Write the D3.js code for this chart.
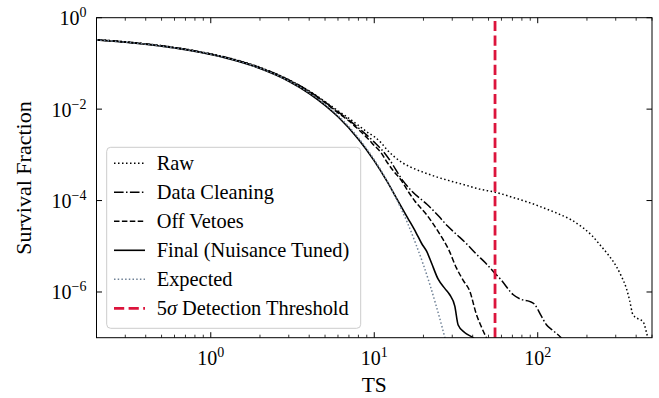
<!DOCTYPE html>
<html>
<head>
<meta charset="utf-8">
<script src="https://cdn.jsdelivr.net/npm/d3@7/dist/d3.min.js"></script>
<style>
  html, body { margin: 0; padding: 0; background: #fff; }
  svg { display: block; }
  text { font-family: "Liberation Serif", "Times New Roman", serif; fill: #000; }
</style>
</head>
<body>
<svg id="chart" width="659" height="398"></svg>
<script>
// ---------------- data ----------------
const tsRaw = [0.2, 0.3, 0.5, 0.7, 1, 1.5, 2, 3, 4, 5, 6, 7, 8, 9, 10, 11, 12, 13.3, 15, 18, 21, 25, 29, 35, 44, 55, 70, 89, 110, 136, 160, 189, 215, 239, 270, 302, 325, 348, 365, 382, 410, 440, 461, 471, 485];
const fracRaw = [0.331, 0.296, 0.244, 0.205, 0.162, 0.114, 0.082, 0.0440, 0.0250, 0.0146, 0.0092, 0.0063, 0.0044, 0.0032, 0.0025, 0.00185, 0.00128, 0.00090, 0.00066, 0.00048, 0.00039, 0.000315, 0.000270, 0.000225, 0.000178, 0.000152, 0.000118, 9.0e-5, 6.8e-5, 5.0e-5, 3.8e-5, 2.55e-5, 1.7e-5, 1.10e-5, 6.5e-6, 3.67e-6, 2.2e-6, 1.22e-6, 6.5e-7, 3.2e-7, 2.6e-7, 2.27e-7, 1.37e-7, 1.0e-7, 6e-8];

const tsClean = [0.2, 0.3, 0.5, 0.7, 1, 1.5, 2, 3, 4, 5, 6, 7, 8, 9, 10, 11, 12.4, 15, 17, 19.9, 21, 25, 28, 31.8, 37, 42, 48, 53.3, 60, 70.6, 80, 89, 96, 104, 113, 125, 139, 150];
const fracClean = [0.330, 0.295, 0.243, 0.204, 0.161, 0.113, 0.081, 0.0436, 0.0246, 0.0143, 0.0087, 0.0058, 0.0039, 0.0027, 0.0019, 0.00135, 0.00078, 0.00027, 0.00016, 9.8e-5, 8.3e-5, 4.4e-5, 2.8e-5, 1.83e-5, 1.1e-5, 6.8e-6, 4.3e-6, 2.85e-6, 1.8e-6, 8.8e-7, 6.8e-7, 6.25e-7, 5.3e-7, 3.2e-7, 1.92e-7, 1.4e-7, 1.0e-7, 7e-8];

const tsVeto = [0.2, 0.3, 0.5, 0.7, 1, 1.5, 2, 3, 4, 5, 6, 7, 8, 9, 10, 11, 11.8, 13, 14.7, 16, 17.7, 21, 25.2, 28.5, 31.8, 35, 38.4, 42.2, 45, 48.5, 51];
const fracVeto = [0.329, 0.294, 0.242, 0.203, 0.160, 0.112, 0.080, 0.0430, 0.0240, 0.0138, 0.0083, 0.0055, 0.0036, 0.0024, 0.0016, 0.00112, 0.00075, 0.00046, 0.00027, 0.000165, 9.8e-5, 4.8e-5, 1.83e-5, 8.5e-6, 3.37e-6, 1.8e-6, 1.04e-6, 3.2e-7, 1.8e-7, 1.0e-7, 7e-8];

const tsFinal = [0.2, 0.3, 0.5, 0.7, 1, 1.5, 2, 3, 4, 5, 6, 8, 10, 12, 14, 16, 18, 19.5, 20.9, 22.4, 24.6, 27, 28.9, 31.1, 32.6, 35.7, 40.2, 43];
const fracFinal = [0.326, 0.290, 0.238, 0.200, 0.157, 0.109, 0.0775, 0.0408, 0.0220, 0.0121, 0.0068, 0.0022, 0.00074, 0.00026, 9.7e-5, 4.2e-5, 2.0e-5, 1.15e-5, 7.8e-6, 4.3e-6, 1.9e-6, 1.2e-6, 8.8e-7, 4.9e-7, 1.9e-7, 1.3e-7, 1.0e-7, 8e-8];

const tsExpected = [0.2, 0.3, 0.5, 0.7, 1, 1.5, 2, 3, 4, 5, 6, 7, 8, 10, 12, 14, 16, 18, 20, 22, 24, 26, 27, 28];
const fracExpected = [0.327, 0.292, 0.240, 0.201, 0.159, 0.110, 0.0786, 0.0416, 0.0228, 0.0127, 0.0072, 0.0041, 0.00234, 0.00078, 0.000266, 9.1e-5, 3.2e-5, 1.1e-5, 3.9e-6, 1.37e-6, 4.8e-7, 1.71e-7, 1.02e-7, 6.1e-8];

const thresholdTS = 54.8;

const xTickValues = [1, 10, 100];
const xTickExponents = ["0", "1", "2"];
const yTickValues = [1, 1e-2, 1e-4, 1e-6];
const yTickExponents = ["0", "\u22122", "\u22124", "\u22126"];

const seriesNames = ["Raw", "Data Cleaning", "Off Vetoes", "Final (Nuisance Tuned)", "Expected"];
const xLabel = "TS";
const yLabel = "Survival Fraction";

// ---------------- layout ----------------
const W = 659, H = 398;
const M = { left: 96.5, right: 7, top: 17.7, bottom: 60.3 };
const svg = d3.select("#chart");

const x = d3.scaleLog().domain([0.2, 500]).range([M.left, W - M.right]);
const y = d3.scaleLog().domain([1e-7, 1]).range([H - M.bottom, M.top]);
const x0 = M.left, x1 = W - M.right, y0 = M.top, y1 = H - M.bottom;

svg.append("defs").append("clipPath").attr("id", "plotclip")
  .append("rect").attr("x", x0).attr("y", y0).attr("width", x1 - x0).attr("height", y1 - y0);

const styles = [
  { color: "#000", width: 1.5, dash: "1.5,2.5" },           // Raw  (:)
  { color: "#000", width: 1.5, dash: "9.6,2.4,1.5,2.4" },   // Data Cleaning (-.)
  { color: "#000", width: 1.5, dash: "5.5,2.4" },           // Off Vetoes (--)
  { color: "#000", width: 1.6, dash: null },                // Final (-)
  { color: "#6f8196", width: 1.5, dash: "1.5,2.2" }         // Expected (:)
];
const seriesData = [
  [tsRaw, fracRaw], [tsClean, fracClean], [tsVeto, fracVeto], [tsFinal, fracFinal], [tsExpected, fracExpected]
];

const line = d3.line().x(d => x(d[0])).y(d => y(d[1])).curve(d3.curveMonotoneX);
const gLines = svg.append("g").attr("clip-path", "url(#plotclip)");

const order = [0, 1, 2, 3, 4];
order.forEach(i => {
  const [ts, fr] = seriesData[i];
  const pts = ts.map((t, k) => [t, fr[k]]);
  gLines.append("path").datum(pts)
    .attr("d", line)
    .attr("fill", "none")
    .attr("stroke", styles[i].color)
    .attr("stroke-width", styles[i].width)
    .attr("stroke-dasharray", styles[i].dash)
    .attr("stroke-linejoin", "round");
});

// threshold vertical line (drawn from bottom to top)
gLines.append("line")
  .attr("x1", x(thresholdTS)).attr("x2", x(thresholdTS))
  .attr("y1", y1).attr("y2", y0)
  .attr("stroke", "#DC143C").attr("stroke-width", 2.8)
  .attr("stroke-dasharray", "10.2,4.4");

// ---------------- axes ----------------
const minorX = [];
for (let e = -1; e <= 2; e++) for (let m = 2; m <= 9; m++) {
  const v = m * Math.pow(10, e);
  if (v >= 0.2 && v <= 500) minorX.push(v);
}
const axG = svg.append("g").attr("stroke", "#000");
svg.append("rect").attr("x", x0).attr("y", y0).attr("width", x1 - x0).attr("height", y1 - y0)
  .attr("fill", "none").attr("stroke", "#000").attr("stroke-width", 1);

const majLen = 5.5, minLen = 3;
xTickValues.forEach(v => {
  axG.append("line").attr("x1", x(v)).attr("x2", x(v)).attr("y1", y1).attr("y2", y1 - majLen).attr("stroke-width", 1);
  axG.append("line").attr("x1", x(v)).attr("x2", x(v)).attr("y1", y0).attr("y2", y0 + majLen).attr("stroke-width", 1);
});
minorX.forEach(v => {
  axG.append("line").attr("x1", x(v)).attr("x2", x(v)).attr("y1", y1).attr("y2", y1 - minLen).attr("stroke-width", 0.8);
  axG.append("line").attr("x1", x(v)).attr("x2", x(v)).attr("y1", y0).attr("y2", y0 + minLen).attr("stroke-width", 0.8);
});
yTickValues.forEach(v => {
  axG.append("line").attr("x1", x0).attr("x2", x0 + majLen).attr("y1", y(v)).attr("y2", y(v)).attr("stroke-width", 1);
  axG.append("line").attr("x1", x1).attr("x2", x1 - majLen).attr("y1", y(v)).attr("y2", y(v)).attr("stroke-width", 1);
});

// tick labels
xTickValues.forEach((v, i) => {
  const t = svg.append("text").attr("x", x(v)).attr("y", y1 + 27)
    .attr("text-anchor", "middle").attr("font-size", 20);
  t.append("tspan").text("10");
  t.append("tspan").attr("font-size", 14).attr("dy", -8).text(xTickExponents[i]);
});
yTickValues.forEach((v, i) => {
  const t = svg.append("text").attr("x", x0 - 10).attr("y", y(v) + 7.5)
    .attr("text-anchor", "end").attr("font-size", 20);
  t.append("tspan").text("10");
  t.append("tspan").attr("font-size", 14).attr("dy", -8).text(yTickExponents[i]);
});

// axis labels
svg.append("text").attr("x", (x0 + x1) / 2).attr("y", 392)
  .attr("text-anchor", "middle").attr("font-size", 21.5).text(xLabel);
svg.append("text").attr("transform", `translate(31,178) rotate(-90)`)
  .attr("text-anchor", "middle").attr("font-size", 22).text(yLabel);

// ---------------- legend ----------------
const lg = svg.append("g");
lg.append("rect").attr("x", 106.7).attr("y", 147.3).attr("width", 254).attr("height", 181)
  .attr("rx", 4).attr("ry", 4)
  .attr("fill", "#fff").attr("fill-opacity", 0.8)
  .attr("stroke", "#cccccc").attr("stroke-width", 1);

const rowY0 = 163.3, rowStep = 29;
const legendStyles = styles.concat([{ color: "#DC143C", width: 2.8, dash: "10.2,4.4" }]);
const legendLabels = seriesNames.concat(["__threshold__"]);
legendLabels.forEach((lab, i) => {
  const yy = rowY0 + i * rowStep;
  const s = legendStyles[i];
  lg.append("line").attr("x1", 114).attr("x2", 145).attr("y1", yy).attr("y2", yy)
    .attr("stroke", s.color).attr("stroke-width", s.width)
    .attr("stroke-dasharray", s.dash);
  const t = lg.append("text").attr("x", 156.7).attr("y", yy + 7).attr("font-size", 20.4);
  if (lab === "__threshold__") {
    t.append("tspan").text("5");
    t.append("tspan").attr("font-style", "italic").text("\u03C3");
    t.append("tspan").text(" Detection Threshold");
  } else {
    t.text(lab);
  }
});
</script>
</body>
</html>
